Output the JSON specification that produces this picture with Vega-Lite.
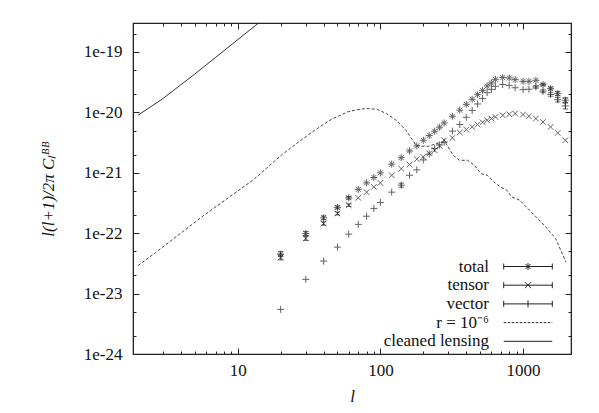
{
  "$schema": "https://vega.github.io/schema/vega-lite/v6.json",
  "width": 438,
  "height": 331,
  "autosize": "none",
  "padding": {"left": 133, "top": 23, "right": 28, "bottom": 59},
  "config": {
    "view": {"stroke": "#222222", "strokeWidth": 1.2},
    "axis": {
      "domainColor": "#222222",
      "tickColor": "#222222",
      "tickSize": -6,
      "gridOpacity": 0,
      "labelFont": "Liberation Serif",
      "labelFontSize": 17,
      "labelColor": "#111111",
      "titleFont": "Liberation Serif",
      "titleFontSize": 17,
      "titleFontStyle": "italic",
      "titleFontWeight": "normal",
      "titleColor": "#111111"
    }
  },
  "datasets": {
    "pts": [
      {"series": "total", "l": 20, "v": 4.5e-23, "lo": 4.09e-23, "hi": 4.95e-23},
      {"series": "total", "l": 30, "v": 9.9e-23, "lo": 9.17e-23, "hi": 1.069e-22},
      {"series": "total", "l": 40, "v": 1.8e-22, "lo": 1.68e-22, "hi": 1.93e-22},
      {"series": "total", "l": 50, "v": 2.67e-22, "lo": 2.52e-22, "hi": 2.83e-22},
      {"series": "total", "l": 60, "v": 3.85e-22, "lo": 3.67e-22, "hi": 4.04e-22},
      {"series": "total", "l": 70, "v": 5.3e-22},
      {"series": "total", "l": 80, "v": 6.81e-22},
      {"series": "total", "l": 90, "v": 8.36e-22},
      {"series": "total", "l": 100, "v": 9.96e-22},
      {"series": "total", "l": 120, "v": 1.39e-21},
      {"series": "total", "l": 140, "v": 1.78e-21},
      {"series": "total", "l": 160, "v": 2.3e-21},
      {"series": "total", "l": 180, "v": 2.79e-21},
      {"series": "total", "l": 200, "v": 3.46e-21},
      {"series": "total", "l": 220, "v": 4.14e-21},
      {"series": "total", "l": 240, "v": 4.88e-21},
      {"series": "total", "l": 260, "v": 5.68e-21},
      {"series": "total", "l": 280, "v": 6.69e-21},
      {"series": "total", "l": 320, "v": 8.63e-21},
      {"series": "total", "l": 360, "v": 1.09e-20},
      {"series": "total", "l": 400, "v": 1.36e-20},
      {"series": "total", "l": 440, "v": 1.65e-20},
      {"series": "total", "l": 480, "v": 1.97e-20},
      {"series": "total", "l": 520, "v": 2.32e-20},
      {"series": "total", "l": 560, "v": 2.74e-20},
      {"series": "total", "l": 600, "v": 3.07e-20},
      {"series": "total", "l": 640, "v": 3.53e-20},
      {"series": "total", "l": 720, "v": 3.77e-20},
      {"series": "total", "l": 800, "v": 3.71e-20},
      {"series": "total", "l": 880, "v": 3.49e-20},
      {"series": "total", "l": 1000, "v": 3.27e-20},
      {"series": "total", "l": 1100, "v": 3.27e-20},
      {"series": "total", "l": 1230, "v": 3.4e-20},
      {"series": "total", "l": 1380, "v": 2.89e-20, "lo": 2.77e-20, "hi": 3.02e-20},
      {"series": "total", "l": 1560, "v": 2.48e-20, "lo": 2.34e-20, "hi": 2.63e-20},
      {"series": "total", "l": 1750, "v": 2.05e-20, "lo": 1.9e-20, "hi": 2.21e-20},
      {"series": "total", "l": 1980, "v": 1.59e-20, "lo": 1.45e-20, "hi": 1.75e-20},
      {"series": "tensor", "l": 20, "v": 3.97e-23, "lo": 3.61e-23, "hi": 4.37e-23},
      {"series": "tensor", "l": 30, "v": 8.19e-23, "lo": 7.58e-23, "hi": 8.85e-23},
      {"series": "tensor", "l": 40, "v": 1.45e-22, "lo": 1.355e-22, "hi": 1.55e-22},
      {"series": "tensor", "l": 50, "v": 2.12e-22, "lo": 2.0e-22, "hi": 2.25e-22},
      {"series": "tensor", "l": 60, "v": 2.91e-22, "lo": 2.77e-22, "hi": 3.06e-22},
      {"series": "tensor", "l": 70, "v": 3.85e-22},
      {"series": "tensor", "l": 80, "v": 4.78e-22},
      {"series": "tensor", "l": 90, "v": 5.85e-22},
      {"series": "tensor", "l": 100, "v": 6.81e-22},
      {"series": "tensor", "l": 120, "v": 9.12e-22},
      {"series": "tensor", "l": 140, "v": 1.17e-21},
      {"series": "tensor", "l": 160, "v": 1.37e-21},
      {"series": "tensor", "l": 180, "v": 1.68e-21},
      {"series": "tensor", "l": 200, "v": 1.83e-21},
      {"series": "tensor", "l": 220, "v": 2.09e-21},
      {"series": "tensor", "l": 240, "v": 2.37e-21},
      {"series": "tensor", "l": 260, "v": 2.79e-21},
      {"series": "tensor", "l": 280, "v": 3.46e-21},
      {"series": "tensor", "l": 320, "v": 3.78e-21},
      {"series": "tensor", "l": 360, "v": 4.65e-21},
      {"series": "tensor", "l": 400, "v": 5.2e-21},
      {"series": "tensor", "l": 440, "v": 5.74e-21},
      {"series": "tensor", "l": 480, "v": 6.3e-21},
      {"series": "tensor", "l": 520, "v": 6.87e-21},
      {"series": "tensor", "l": 560, "v": 7.41e-21},
      {"series": "tensor", "l": 600, "v": 7.91e-21},
      {"series": "tensor", "l": 640, "v": 8.41e-21},
      {"series": "tensor", "l": 720, "v": 8.97e-21},
      {"series": "tensor", "l": 800, "v": 9.31e-21},
      {"series": "tensor", "l": 880, "v": 9.57e-21},
      {"series": "tensor", "l": 1000, "v": 9.21e-21},
      {"series": "tensor", "l": 1100, "v": 8.63e-21},
      {"series": "tensor", "l": 1230, "v": 7.91e-21},
      {"series": "tensor", "l": 1380, "v": 6.95e-21},
      {"series": "tensor", "l": 1560, "v": 5.74e-21},
      {"series": "tensor", "l": 1750, "v": 4.57e-21},
      {"series": "tensor", "l": 1980, "v": 3.46e-21},
      {"series": "vector", "l": 20, "v": 5.48e-24},
      {"series": "vector", "l": 30, "v": 1.72e-23},
      {"series": "vector", "l": 40, "v": 3.45e-23},
      {"series": "vector", "l": 50, "v": 5.88e-23},
      {"series": "vector", "l": 60, "v": 9.64e-23},
      {"series": "vector", "l": 70, "v": 1.4e-22},
      {"series": "vector", "l": 80, "v": 1.91e-22},
      {"series": "vector", "l": 90, "v": 2.57e-22},
      {"series": "vector", "l": 100, "v": 3.23e-22},
      {"series": "vector", "l": 120, "v": 4.78e-22},
      {"series": "vector", "l": 140, "v": 6.24e-22, "lo": 5.78e-22, "hi": 6.74e-22},
      {"series": "vector", "l": 160, "v": 9.12e-22},
      {"series": "vector", "l": 180, "v": 1.12e-21},
      {"series": "vector", "l": 200, "v": 1.63e-21},
      {"series": "vector", "l": 220, "v": 2.05e-21},
      {"series": "vector", "l": 240, "v": 2.51e-21},
      {"series": "vector", "l": 260, "v": 2.89e-21},
      {"series": "vector", "l": 280, "v": 3.23e-21},
      {"series": "vector", "l": 320, "v": 4.9e-21},
      {"series": "vector", "l": 360, "v": 6.3e-21},
      {"series": "vector", "l": 400, "v": 8.3e-21},
      {"series": "vector", "l": 440, "v": 1.08e-20},
      {"series": "vector", "l": 480, "v": 1.38e-20},
      {"series": "vector", "l": 520, "v": 1.7e-20},
      {"series": "vector", "l": 560, "v": 2.12e-20},
      {"series": "vector", "l": 600, "v": 2.4e-20},
      {"series": "vector", "l": 640, "v": 2.7e-20},
      {"series": "vector", "l": 720, "v": 2.9e-20},
      {"series": "vector", "l": 800, "v": 2.8e-20},
      {"series": "vector", "l": 880, "v": 2.56e-20},
      {"series": "vector", "l": 1000, "v": 2.38e-20},
      {"series": "vector", "l": 1100, "v": 2.42e-20},
      {"series": "vector", "l": 1230, "v": 2.64e-20, "lo": 2.51e-20, "hi": 2.77e-20},
      {"series": "vector", "l": 1380, "v": 2.24e-20, "lo": 2.11e-20, "hi": 2.37e-20},
      {"series": "vector", "l": 1560, "v": 1.98e-20, "lo": 1.85e-20, "hi": 2.12e-20},
      {"series": "vector", "l": 1750, "v": 1.62e-20, "lo": 1.49e-20, "hi": 1.77e-20},
      {"series": "vector", "l": 1980, "v": 1.28e-20, "lo": 1.14e-20, "hi": 1.43e-20}
    ],
    "r": [
      {"l": 2.0, "v": 2.9e-23},
      {"l": 2.65, "v": 4.76e-23},
      {"l": 5.82, "v": 1.99e-22},
      {"l": 12.8, "v": 7.6e-22},
      {"l": 20.5, "v": 2.01e-21},
      {"l": 26.7, "v": 3.24e-21},
      {"l": 34.7, "v": 5.07e-21},
      {"l": 45.1, "v": 7.62e-21},
      {"l": 58.7, "v": 1.016e-20},
      {"l": 68.7, "v": 1.114e-20},
      {"l": 80.4, "v": 1.159e-20},
      {"l": 94.2, "v": 1.127e-20},
      {"l": 110.3, "v": 9.57e-21},
      {"l": 129, "v": 7.41e-21},
      {"l": 151, "v": 5.07e-21},
      {"l": 168, "v": 3.46e-21},
      {"l": 178.5, "v": 2.86e-21},
      {"l": 196, "v": 2.75e-21},
      {"l": 218, "v": 2.75e-21},
      {"l": 255, "v": 3.13e-21},
      {"l": 284, "v": 3.24e-21},
      {"l": 324, "v": 1.95e-21},
      {"l": 359, "v": 1.61e-21},
      {"l": 409, "v": 1.61e-21},
      {"l": 455, "v": 1.34e-21},
      {"l": 505, "v": 9.73e-22},
      {"l": 561, "v": 9.12e-22},
      {"l": 623, "v": 7.08e-22},
      {"l": 692, "v": 5.85e-22},
      {"l": 769, "v": 5.15e-22},
      {"l": 832, "v": 3.99e-22},
      {"l": 948, "v": 3.52e-22},
      {"l": 1052, "v": 2.73e-22},
      {"l": 1233, "v": 1.86e-22},
      {"l": 1443, "v": 1.27e-22},
      {"l": 1690, "v": 8.18e-23},
      {"l": 2000, "v": 3.32e-23}
    ],
    "lens": [
      {"l": 2.0, "v": 8.97e-21},
      {"l": 2.945, "v": 1.65e-20},
      {"l": 4.98, "v": 4.28e-20},
      {"l": 14.0, "v": 3.02e-19}
    ]
  },
  "layer": [
    {
      "data": {"name": "pts"},
      "transform": [{"filter": "datum.series === 'total'"}],
      "mark": {"type": "point", "shape": "M-1,0H1M0,-1V1M-0.7,-0.7L0.7,0.7M-0.7,0.7L0.7,-0.7", "filled": false, "stroke": "#222222", "strokeWidth": 1, "size": 49},
      "encoding": {
        "x": {"field": "l", "type": "quantitative",
          "scale": {"type": "log", "domain": [2, 2000], "nice": false},
          "axis": {"orient": "bottom", "title": "l", "titlePadding": 10, "format": "d", "labelPadding": 14,
            "values": [10, 100, 1000]}},
        "y": {"field": "v", "type": "quantitative",
          "scale": {"type": "log", "domain": [1e-24, 3.02e-19], "nice": false},
          "axis": {"orient": "left", "title": "l(l+1)/2π Cₗᴮᴮ", "titlePadding": 26, "format": ".0e", "labelPadding": 17,
            "values": [1e-24, 1e-23, 1e-22, 1e-21, 1e-20, 1e-19]}}
      }
    },
    {
      "data": {"name": "pts"},
      "transform": [{"filter": "datum.series === 'tensor'"}],
      "mark": {"type": "point", "shape": "M-0.8,-0.8L0.8,0.8M-0.8,0.8L0.8,-0.8", "filled": false, "stroke": "#222222", "strokeWidth": 1, "size": 49},
      "encoding": {
        "x": {"field": "l", "type": "quantitative",
          "scale": {"type": "log", "domain": [2, 2000], "nice": false},
          "axis": {"orient": "bottom", "title": null, "labels": false, "domain": false, "tickSize": -3,
            "values": [3,4,5,6,7,8,9,20,30,40,50,60,70,80,90,200,300,400,500,600,700,800,900]}},
        "y": {"field": "v", "type": "quantitative",
          "scale": {"type": "log", "domain": [1e-24, 3.02e-19], "nice": false},
          "axis": {"orient": "left", "title": null, "labels": false, "domain": false, "tickSize": -3,
            "values": [2e-24,5e-24,2e-23,5e-23,2e-22,5e-22,2e-21,5e-21,2e-20,5e-20,2e-19]}}
      }
    },
    {
      "data": {"name": "pts"},
      "transform": [{"filter": "datum.series === 'vector'"}],
      "mark": {"type": "point", "shape": "M-1,0H1M0,-1V1", "filled": false, "stroke": "#222222", "strokeWidth": 1, "size": 49},
      "encoding": {
        "x": {"field": "l", "type": "quantitative",
          "scale": {"type": "log", "domain": [2, 2000], "nice": false},
          "axis": {"orient": "top", "title": null, "labels": false, "values": [10, 100, 1000]}},
        "y": {"field": "v", "type": "quantitative",
          "scale": {"type": "log", "domain": [1e-24, 3.02e-19], "nice": false},
          "axis": {"orient": "right", "title": null, "labels": false,
            "values": [1e-24, 1e-23, 1e-22, 1e-21, 1e-20, 1e-19]}}
      }
    },
    {
      "data": {"name": "pts"},
      "mark": {"type": "point", "filled": false, "stroke": "#222222", "strokeWidth": 1, "size": 1, "opacity": 0},
      "encoding": {
        "x": {"field": "l", "type": "quantitative",
          "scale": {"type": "log", "domain": [2, 2000], "nice": false},
          "axis": {"orient": "top", "title": null, "labels": false, "domain": false, "tickSize": -3,
            "values": [3,4,5,6,7,8,9,20,30,40,50,60,70,80,90,200,300,400,500,600,700,800,900]}},
        "y": {"field": "v", "type": "quantitative",
          "scale": {"type": "log", "domain": [1e-24, 3.02e-19], "nice": false},
          "axis": {"orient": "right", "title": null, "labels": false, "domain": false, "tickSize": -3,
            "values": [2e-24,5e-24,2e-23,5e-23,2e-22,5e-22,2e-21,5e-21,2e-20,5e-20,2e-19]}},
        "shape": {"field": "series", "type": "nominal",
          "scale": {"domain": ["total", "tensor", "vector", "r = 10⁻⁶", "cleaned lensing"],
            "range": [
              "M-4.86,0H4.86M-4.86,-0.6V0.6M4.86,-0.6V0.6M-0.7,0H0.7M0,-0.7V0.7M-0.5,-0.5L0.5,0.5M-0.5,0.5L0.5,-0.5",
              "M-4.86,0H4.86M-4.86,-0.6V0.6M4.86,-0.6V0.6M-0.6,-0.6L0.6,0.6M-0.6,0.6L0.6,-0.6",
              "M-4.86,0H4.86M-4.86,-0.6V0.6M4.86,-0.6V0.6M0,-0.7V0.7",
              "M-4.86,0H-4.36M-4.06,0H-3.56M-3.26,0H-2.76M-2.46,0H-1.96M-1.66,0H-1.16M-0.86,0H-0.36M-0.06,0H0.44M0.74,0H1.24M1.54,0H2.04M2.34,0H2.84M3.14,0H3.64M3.94,0H4.44M4.74,0H4.86",
              "M-4.86,0H4.86"
            ]},
          "legend": {"title": null, "orient": "none", "legendX": 386.5, "legendY": 235, "padding": 0,
            "labelFont": "Liberation Serif", "labelFontSize": 17, "labelColor": "#111111", "labelAlign": "right", "labelOffset": -47.5, "labelLimit": 300,
            "symbolSize": 100, "symbolStrokeWidth": 1, "symbolStrokeColor": "#222222", "symbolOpacity": 1, "rowPadding": 0.7}
        }
      }
    },
    {
      "data": {"name": "r"},
      "mark": {"type": "line", "stroke": "#444444", "strokeWidth": 1, "strokeDash": [3, 2]},
      "encoding": {
        "x": {"field": "l", "type": "quantitative", "scale": {"type": "log", "domain": [2, 2000], "nice": false}, "axis": null},
        "y": {"field": "v", "type": "quantitative", "scale": {"type": "log", "domain": [1e-24, 3.02e-19], "nice": false}, "axis": null}
      }
    },
    {
      "data": {"name": "lens"},
      "mark": {"type": "line", "stroke": "#333333", "strokeWidth": 1},
      "encoding": {
        "x": {"field": "l", "type": "quantitative", "scale": {"type": "log", "domain": [2, 2000], "nice": false}, "axis": null},
        "y": {"field": "v", "type": "quantitative", "scale": {"type": "log", "domain": [1e-24, 3.02e-19], "nice": false}, "axis": null}
      }
    },
    {
      "data": {"name": "pts"},
      "transform": [{"filter": "isValid(datum.lo)"}],
      "mark": {"type": "bar", "width": 1, "color": "#333333"},
      "encoding": {
        "x": {"field": "l", "type": "quantitative", "scale": {"type": "log", "domain": [2, 2000], "nice": false}, "axis": null},
        "y": {"field": "lo", "type": "quantitative", "scale": {"type": "log", "domain": [1e-24, 3.02e-19], "nice": false}, "axis": null},
        "y2": {"field": "hi"}
      }
    },
    {
      "data": {"name": "pts"},
      "transform": [{"filter": "isValid(datum.lo)"}],
      "mark": {"type": "point", "shape": "M-1,0H1", "size": 30, "filled": false, "stroke": "#333333", "strokeWidth": 1},
      "encoding": {
        "x": {"field": "l", "type": "quantitative", "scale": {"type": "log", "domain": [2, 2000], "nice": false}, "axis": null},
        "y": {"field": "lo", "type": "quantitative", "scale": {"type": "log", "domain": [1e-24, 3.02e-19], "nice": false}, "axis": null}
      }
    },
    {
      "data": {"name": "pts"},
      "transform": [{"filter": "isValid(datum.hi)"}],
      "mark": {"type": "point", "shape": "M-1,0H1", "size": 30, "filled": false, "stroke": "#333333", "strokeWidth": 1},
      "encoding": {
        "x": {"field": "l", "type": "quantitative", "scale": {"type": "log", "domain": [2, 2000], "nice": false}, "axis": null},
        "y": {"field": "hi", "type": "quantitative", "scale": {"type": "log", "domain": [1e-24, 3.02e-19], "nice": false}, "axis": null}
      }
    }
  ],
  "resolve": {"axis": {"x": "independent", "y": "independent"}}
}
